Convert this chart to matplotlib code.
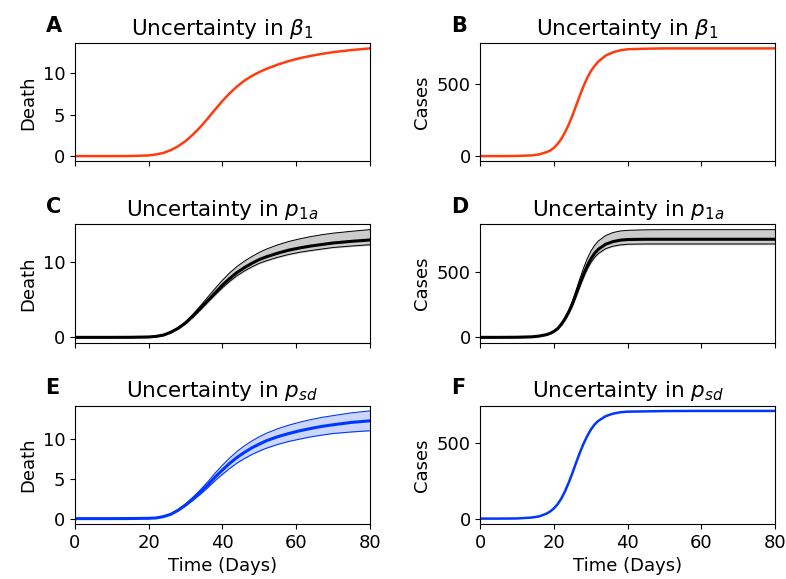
import matplotlib
matplotlib.use("Agg")
import matplotlib.pyplot as plt

plt.rcParams["font.size"] = 13

# time grids (days)
days_death = [0, 5, 10, 15, 20, 22, 24, 26, 28, 30, 32, 34, 36, 38, 40,
              42, 44, 46, 48, 50, 52, 55, 58, 61, 64, 67, 70, 75, 80]
days_cases = [0, 5, 10, 14, 16, 18, 19, 20, 21, 22, 23, 24, 25, 26, 27,
              28, 29, 30, 31, 32, 34, 36, 38, 40, 45, 50, 60, 70, 80]

# uncertainty in beta_1
death_beta = [0, 0, 0, 0.01, 0.08, 0.2, 0.38, 0.72, 1.18, 1.8, 2.58, 3.48, 4.5, 5.58, 6.62,
              7.56, 8.38, 9.08, 9.64, 10.1, 10.5, 11.0, 11.43, 11.78, 12.06, 12.3, 12.5, 12.76, 12.96]
cases_beta = [0, 0, 1, 5, 12, 28, 39, 58, 85, 120, 166, 219, 281, 350, 419,
              484, 541, 588, 624, 654, 696, 719, 733, 740, 744, 746, 746, 746, 746]

# uncertainty in p_1a
death_p1a_mean = [0, 0, 0, 0.01, 0.05, 0.13, 0.3, 0.67, 1.2, 1.9, 2.8, 3.8, 4.84, 5.87, 6.9,
                  7.8, 8.6, 9.24, 9.8, 10.3, 10.68, 11.15, 11.55, 11.85, 12.1, 12.3, 12.5, 12.72, 12.9]
death_p1a_hi = [0, 0, 0, 0.01, 0.05, 0.14, 0.32, 0.72, 1.3, 2.07, 3.05, 4.15, 5.3, 6.45, 7.55,
                8.55, 9.4, 10.1, 10.7, 11.25, 11.7, 12.25, 12.7, 13.05, 13.35, 13.6, 13.8, 14.05, 14.27]
death_p1a_lo = [0, 0, 0, 0.01, 0.05, 0.12, 0.29, 0.64, 1.15, 1.82, 2.68, 3.63, 4.62, 5.6, 6.55,
                7.42, 8.17, 8.8, 9.33, 9.8, 10.15, 10.6, 10.98, 11.27, 11.5, 11.7, 11.9, 12.1, 12.27]
cases_p1a_mean = [0, 0, 1, 4, 10, 21, 31, 46, 67, 100, 142, 193, 255, 330, 407,
                  479, 544, 598, 639, 670, 709, 729, 740, 745, 747, 747, 747, 747, 747]
cases_p1a_hi = [0, 0, 1, 4, 10, 21, 32, 48, 70, 106, 152, 208, 277, 360, 446,
                527, 598, 656, 700, 733, 775, 798, 810, 815, 819, 820, 820, 820, 820]
cases_p1a_lo = [0, 0, 1, 4, 10, 21, 31, 45, 64, 96, 136, 184, 243, 314, 387,
                456, 518, 570, 608, 638, 675, 694, 704, 709, 711, 711, 711, 711, 711]

# uncertainty in p_sd
death_psd_mean = [0, 0, 0, 0.01, 0.04, 0.08, 0.25, 0.54, 1.05, 1.7, 2.47, 3.3, 4.2, 5.2, 6.1,
                  6.95, 7.7, 8.33, 8.9, 9.37, 9.8, 10.3, 10.7, 11.05, 11.34, 11.6, 11.8, 12.1, 12.3]
death_psd_hi = [0, 0, 0, 0.01, 0.04, 0.09, 0.27, 0.58, 1.12, 1.83, 2.68, 3.6, 4.6, 5.7, 6.7,
                7.62, 8.45, 9.15, 9.76, 10.28, 10.74, 11.3, 11.75, 12.13, 12.45, 12.73, 12.95, 13.3, 13.55]
death_psd_lo = [0, 0, 0, 0.01, 0.04, 0.08, 0.24, 0.5, 0.98, 1.58, 2.28, 3.03, 3.85, 4.75, 5.55,
                6.3, 6.98, 7.55, 8.05, 8.48, 8.86, 9.32, 9.7, 10.0, 10.28, 10.5, 10.7, 10.9, 11.05]
cases_psd = [0, 0, 1, 7, 15, 33, 48, 68, 96, 133, 181, 238, 301, 369, 434,
             493, 544, 587, 620, 644, 675, 692, 701, 705, 707, 709, 710, 710, 710]

red = "#ff3c0f"
blue = "#0037ff"

fig, axes = plt.subplots(3, 2, figsize=(7.86, 5.79), dpi=100, sharex=True)
fig.subplots_adjust(left=0.0954, right=0.986, top=0.9257, bottom=0.095,
                    wspace=0.376, hspace=0.53)

# row 1: single curves
axes[0, 0].plot(days_death, death_beta, color=red, lw=1.8)
axes[0, 1].plot(days_cases, cases_beta, color=red, lw=1.8)

# row 2: grey bands
ax = axes[1, 0]
ax.fill_between(days_death, death_p1a_lo, death_p1a_hi, color="#cccccc")
ax.plot(days_death, death_p1a_hi, color="k", lw=0.7)
ax.plot(days_death, death_p1a_lo, color="k", lw=0.7)
ax.plot(days_death, death_p1a_mean, color="k", lw=2.2)

ax = axes[1, 1]
ax.fill_between(days_cases, cases_p1a_lo, cases_p1a_hi, color="#cccccc")
ax.plot(days_cases, cases_p1a_hi, color="k", lw=0.7)
ax.plot(days_cases, cases_p1a_lo, color="k", lw=0.7)
ax.plot(days_cases, cases_p1a_mean, color="k", lw=2.2)

# row 3: blue band + single curve
ax = axes[2, 0]
ax.fill_between(days_death, death_psd_lo, death_psd_hi, color=blue, alpha=0.2, lw=0)
ax.plot(days_death, death_psd_hi, color=blue, lw=0.8)
ax.plot(days_death, death_psd_lo, color=blue, lw=0.8)
ax.plot(days_death, death_psd_mean, color=blue, lw=2.2)

axes[2, 1].plot(days_cases, cases_psd, color=blue, lw=1.8)

titles = [r"Uncertainty in $\beta_1$", r"Uncertainty in $p_{1a}$", r"Uncertainty in $p_{sd}$"]
letters = ["A", "B", "C", "D", "E", "F"]
death_ticks = [[0, 5, 10], [0, 10], [0, 5, 10]]

for i in range(3):
    for j in range(2):
        ax = axes[i, j]
        ax.set_title(titles[i], fontsize=15.5)
        ax.text(-0.1, 1.095, letters[2 * i + j], transform=ax.transAxes,
                fontsize=15, fontweight="bold", ha="left", va="baseline")
        ax.set_xlim(0, 80)
        ax.set_xticks([0, 20, 40, 60, 80])
        if j == 0:
            ax.set_ylabel("Death")
            ax.set_yticks(death_ticks[i])
        else:
            ax.set_ylabel("Cases")
            ax.set_yticks([0, 500])

for j in range(2):
    axes[2, j].set_xlabel("Time (Days)")

fig.savefig("out.png", dpi=100)
